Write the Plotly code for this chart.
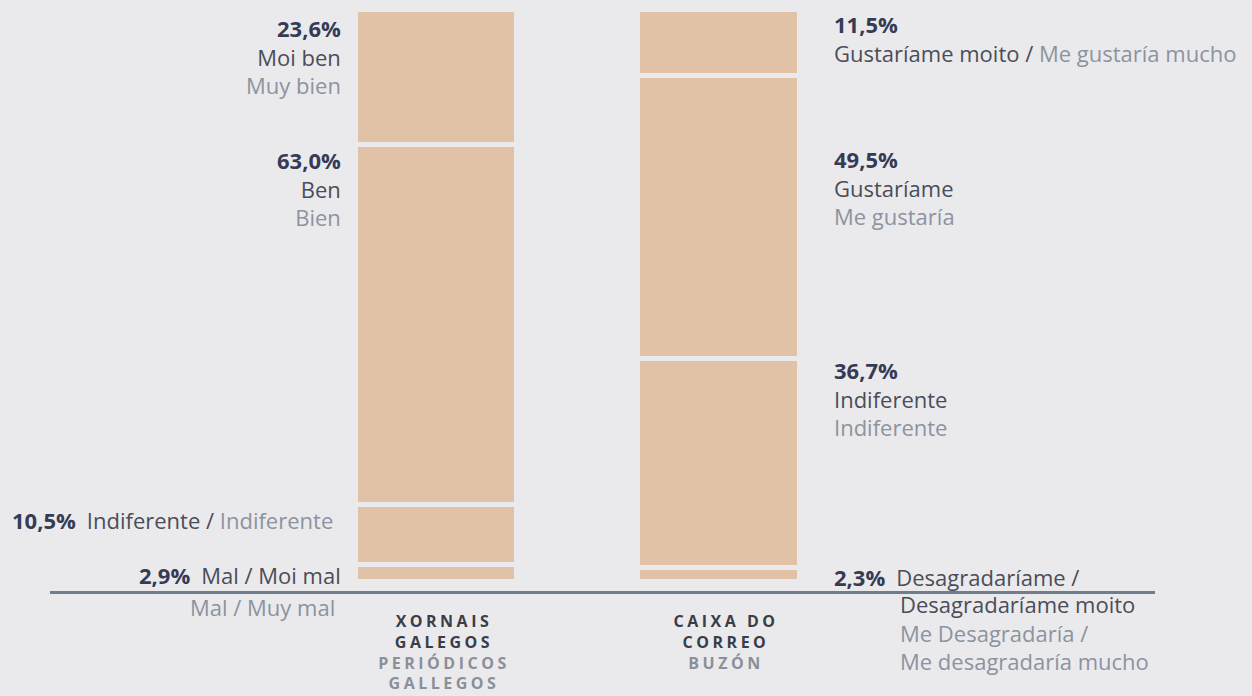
import plotly.graph_objects as go
from itertools import accumulate

# ---------------- data ----------------
categories = ["XORNAIS<br>GALEGOS", "CAIXA DO<br>CORREO"]
categories_es = ["PERIÓDICOS<br>GALLEGOS", "BUZÓN"]

# segments listed from the bottom of each bar to the top
xornais_values = [2.9, 10.5, 63.0, 23.6]
caixa_values = [2.3, 36.7, 49.5, 11.5]

xornais_gl = ["Mal / Moi mal", "Indiferente", "Ben", "Moi ben"]
xornais_es = ["Mal / Muy mal", "Indiferente", "Bien", "Muy bien"]
caixa_gl = [["Desagradaríame /", "Desagradaríame moito"], "Indiferente", "Gustaríame", "Gustaríame moito"]
caixa_es = [["Me Desagradaría /", "Me desagradaría mucho"], "Indiferente", "Me gustaría", "Me gustaría mucho"]

# ---------------- style ----------------
BG = "#eaeaec"
BAR = "#e1c2a6"
C_PCT = "#363b55"
C_GL = "#4a4d59"
C_ES = "#8c93a0"
C_LINE = "#6f7d8c"
C_CAT = "#3a3d48"
C_CAT_ES = "#8a8f99"
FONT = "Open Sans"
FS = 22
BAR_W = 0.571
GAP = "\u2002"  # wider gap after the percentage


def pct(v):
    return f"<span style='color:{C_PCT}'><b>{v:.1f}%</b></span>".replace(".", ",")


def gl(t):
    return f"<span style='color:{C_GL}'>{t}</span>"


def es(t):
    return f"<span style='color:{C_ES}'>{t}</span>"


fig = go.Figure()
for i in range(len(xornais_values)):
    fig.add_trace(go.Bar(
        x=categories,
        y=[xornais_values[i], caixa_values[i]],
        width=BAR_W,
        marker=dict(color=BAR, line=dict(color=BG, width=5)),
        hoverinfo="skip",
        showlegend=False,
    ))

tops1 = list(accumulate(xornais_values))
tops2 = list(accumulate(caixa_values))

left_x = -BAR_W / 2
right_x = 1 + BAR_W / 2

ann = []


def add(text, x, y, xanchor, xshift, yshift, align):
    ann.append(dict(text=text, x=x, y=y, xref="x", yref="y", xanchor=xanchor,
                    yanchor="top", xshift=xshift, yshift=yshift, align=align,
                    showarrow=False, font=dict(family=FONT, size=FS, color=C_GL)))


# Xornais galegos (labels on the left)
add(f"{pct(xornais_values[3])}<br>{gl(xornais_gl[3])}<br>{es(xornais_es[3])}",
    left_x, tops1[3], "right", -13, -1, "right")
add(f"{pct(xornais_values[2])}<br>{gl(xornais_gl[2])}<br>{es(xornais_es[2])}",
    left_x, tops1[2], "right", -13, 2, "right")
add(f"{pct(xornais_values[1])}{GAP}{gl(xornais_gl[1] + ' /')} {es(xornais_es[1])}",
    left_x, tops1[1], "right", -21, 2, "right")
add(f"{pct(xornais_values[0])}{GAP}{gl(xornais_gl[0])}",
    left_x, tops1[0], "right", -13, 7, "right")
add(es(xornais_es[0]), left_x, 0, "right", -19, -8.5, "right")

# Caixa do correo (labels on the right)
add(f"{pct(caixa_values[3])}<br>{gl(caixa_gl[3] + ' /')} {es(caixa_es[3])}",
    right_x, tops2[3], "left", 32, 3, "left")
add(f"{pct(caixa_values[2])}<br>{gl(caixa_gl[2])}<br>{es(caixa_es[2])}",
    right_x, tops2[2], "left", 32, -66, "left")
add(f"{pct(caixa_values[1])}<br>{gl(caixa_gl[1])}<br>{es(caixa_es[1])}",
    right_x, tops2[1], "left", 32, 6, "left")
add(f"{pct(caixa_values[0])}{GAP}{gl(caixa_gl[0][0])}",
    right_x, tops2[0], "left", 32, 8.5, "left")
add(f"{gl(caixa_gl[0][1])}<br>{es(caixa_es[0][0])}<br>{es(caixa_es[0][1])}",
    right_x, 0, "left", 98, -5, "left")

ticktext = [
    f"<span style='letter-spacing:3.5px'><b><span style='color:{C_CAT}'>{c}</span><br>"
    f"<span style='color:{C_CAT_ES}'>{e}</span></b></span>"
    for c, e in zip(categories, categories_es)
]

fig.update_layout(
    width=1252, height=696,
    margin=dict(l=50, r=97, t=10, b=105, autoexpand=False),
    paper_bgcolor=BG, plot_bgcolor=BG,
    barmode="stack", bargap=0,
    annotations=ann,
    font=dict(family=FONT, size=FS, color=C_GL),
    xaxis=dict(
        range=[-1.372, 2.546], automargin=False,
        tickmode="array", tickvals=categories, ticktext=ticktext,
        tickfont=dict(family=FONT, size=16, color=C_CAT),
        ticklabelstandoff=14, ticklabelshift=7,
        showline=True, linecolor=C_LINE, linewidth=2.5,
        showgrid=False, zeroline=False, ticks="", fixedrange=True,
    ),
    yaxis=dict(range=[-1.662, 100], visible=False, showgrid=False, automargin=False,
               zeroline=False, fixedrange=True),
)

PAGE_CSS = ("html,body{margin:0;padding:0;overflow:hidden;width:1252px;height:696px;background:"
            + BG + "}")
fig.write_html(
    "out.html",
    config={"displayModeBar": False},
    post_script=("var s=document.createElement('style');s.textContent='" + PAGE_CSS
                 + "';document.head.appendChild(s);"),
)
